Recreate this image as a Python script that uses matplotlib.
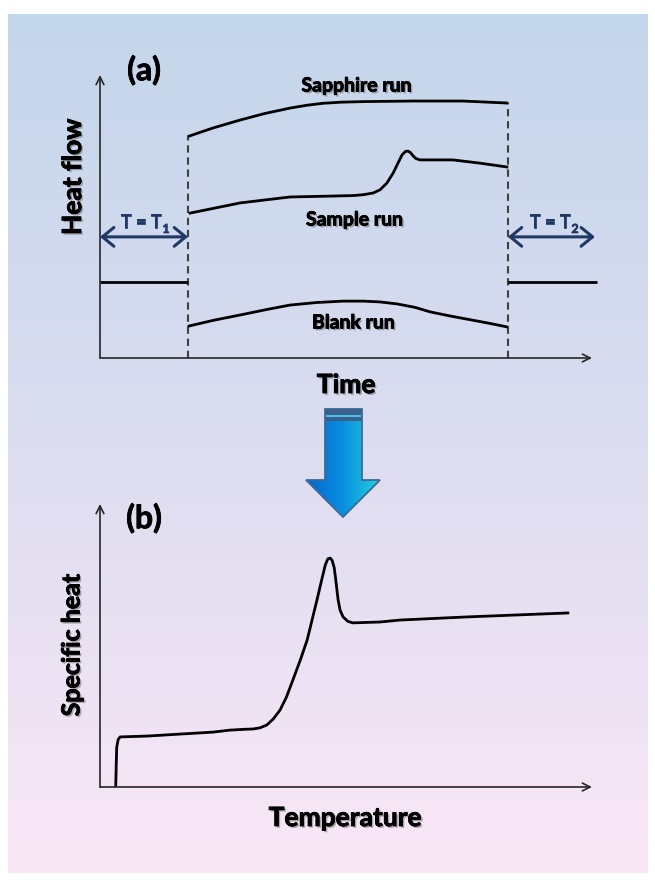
import numpy as np
import matplotlib
matplotlib.use("Agg")
import matplotlib.pyplot as plt
from matplotlib import patheffects as pe
from matplotlib.patches import Polygon, Rectangle
from matplotlib.colors import LinearSegmentedColormap

# ---------------- data (arbitrary units) ----------------
# panel (a): heat flow vs time
t_start, t_end = 1.79, 8.29
iso_level = 2.69
sapphire_t = [1.81, 2.30, 2.85, 3.35, 3.86, 4.20, 4.53, 4.90, 5.35, 6.36, 7.38, 8.27]
sapphire_h = [7.84, 8.13, 8.41, 8.64, 8.83, 8.93, 9.00, 9.04, 9.06, 9.08, 9.08, 9.01]
sample_t = [1.83, 2.85, 3.86, 4.67, 5.15, 5.35, 5.55, 5.69, 5.83, 5.96, 6.06, 6.14, 6.21,
            6.26, 6.31, 6.36, 6.42, 6.50, 6.80, 7.17, 7.70, 8.27]
sample_h = [5.12, 5.48, 5.69, 5.72, 5.74, 5.77, 5.83, 5.94, 6.18, 6.54, 6.90, 7.18, 7.30,
            7.31, 7.26, 7.15, 7.05, 7.00, 7.00, 7.00, 6.89, 6.75]
blank_t = [1.81, 2.30, 2.85, 3.35, 3.86, 4.40, 4.94, 5.35, 5.70, 6.04, 6.40, 6.71, 7.10,
           7.50, 7.90, 8.27]
blank_h = [1.13, 1.33, 1.52, 1.70, 1.87, 1.96, 2.01, 2.01, 1.98, 1.91, 1.79, 1.63, 1.49,
           1.36, 1.23, 1.10]

# panel (b): specific heat vs temperature
temp = [0.32, 0.33, 0.34, 0.37, 0.41, 0.96, 1.63, 2.30, 2.64, 2.95, 3.11, 3.25, 3.39,
        3.52, 3.66, 3.79, 3.92, 4.07, 4.21, 4.31, 4.41, 4.51, 4.58, 4.63, 4.68, 4.72,
        4.76, 4.79, 4.82, 4.84, 4.88, 4.94, 5.04, 5.14, 5.69, 6.10, 7.46, 9.51]
cp = [0.00, 0.80, 1.41, 1.68, 1.77, 1.80, 1.87, 1.94, 2.01, 2.04, 2.05, 2.09, 2.19,
      2.40, 2.72, 3.18, 3.78, 4.48, 5.19, 5.90, 6.61, 7.35, 7.85, 8.06, 8.09, 8.00,
      7.75, 7.35, 6.90, 6.61, 6.25, 6.01, 5.85, 5.80, 5.83, 5.90, 6.01, 6.15]

W, H, DPI = 655, 881, 100
FONT = "Lato"
plt.rcParams["font.family"] = [FONT, "DejaVu Sans"]

fig = plt.figure(figsize=(W / DPI, H / DPI), dpi=DPI)
fig.patch.set_facecolor("white")

# background / decoration axes in pixel coordinates
bg = fig.add_axes([0, 0, 1, 1])
bg.set_xlim(0, W)
bg.set_ylim(H, 0)
bg.axis("off")
grad = np.linspace(0, 1, 256)[:, None]
bgcmap = LinearSegmentedColormap.from_list("bg", ["#C4D6EB", "#DCDDF0", "#FAE7F6"])
bg.imshow(grad, extent=[8, 648, 873, 14], cmap=bgcmap, aspect="auto", zorder=0,
          interpolation="bicubic")


def fig_rect(x0, y0, x1, y1):
    return [x0 / W, 1 - y1 / H, (x1 - x0) / W, (y1 - y0) / H]


AX_COL = "#262626"
LW = 2.0
shadow = [pe.withSimplePatchShadow(offset=(1.3, -1.3), shadow_rgbFace="#555555", alpha=0.45),
          pe.Stroke(linewidth=0.6, foreground="black"), pe.Normal()]
thick = [pe.Stroke(linewidth=0.6, foreground="black"), pe.Normal()]


def draw_axes_arrows(ax):
    kw = dict(arrowstyle="->", lw=1.2, color=AX_COL, shrinkA=0, shrinkB=0, mutation_scale=14)
    ax.annotate("", xy=(0, 1), xytext=(0, 0), xycoords="axes fraction", arrowprops=kw)
    ax.annotate("", xy=(1, 0), xytext=(0, 0), xycoords="axes fraction", arrowprops=kw)


# ---------------- panel (a) ----------------
axA = fig.add_axes(fig_rect(100, 75, 592, 358))
axA.set_xlim(0, 10)
axA.set_ylim(0, 10)
axA.axis("off")
draw_axes_arrows(axA)
dash = dict(color="#404040", lw=1.5, ls=(0, (3.5, 2.3)))
axA.plot([t_start, t_start], [0, sapphire_h[0]], **dash)
axA.plot([t_end, t_end], [0, sapphire_h[-1]], **dash)
axA.plot([0, t_start], [iso_level, iso_level], color="black", lw=LW, solid_capstyle="butt")
axA.plot([t_end, 10.1], [iso_level, iso_level], color="black", lw=LW, solid_capstyle="butt",
         clip_on=False)
for xs, ys in [(sapphire_t, sapphire_h), (sample_t, sample_h), (blank_t, blank_h)]:
    axA.plot(xs, ys, color="black", lw=LW, solid_joinstyle="round", clip_on=False)
NAVY = "#1F3864"
tk = dict(arrowstyle="<->, head_length=0.55, head_width=0.45", lw=2.2, color=NAVY,
          shrinkA=0, shrinkB=0, mutation_scale=15)
axA.annotate("", xy=(0, 4.28), xytext=(t_start, 4.28), arrowprops=tk, annotation_clip=False)
axA.annotate("", xy=(t_end, 4.28), xytext=(10.06, 4.28), arrowprops=tk, annotation_clip=False)

# ---------------- panel (b) ----------------
axB = fig.add_axes(fig_rect(100, 504, 592, 787))
axB.set_xlim(0, 10)
axB.set_ylim(0, 10)
axB.axis("off")
draw_axes_arrows(axB)
axB.plot(temp, cp, color="black", lw=LW, solid_joinstyle="round")

# ---------------- texts (pixel coordinates) ----------------
def txt(x, y, s, size, color="black", rot=0, eff=True):
    bg.text(x, y, s, fontsize=size, fontweight="bold", color=color, rotation=rot,
            ha="center", va="center", zorder=5, path_effects=shadow if eff else thick)

txt(144, 70, "(a)", 23, eff=False)
txt(144, 518, "(b)", 23, eff=False)
txt(357, 86, "Sapphire run", 14)
txt(355, 220, "Sample run", 14)
txt(354, 323, "Blank run", 14)
txt(73, 177, "Heat flow", 19, rot=90)
txt(346, 385, "Time", 19)
txt(72, 645, "Specific heat", 18, rot=90)
txt(345, 818, "Temperature", 19)

navy_fx = [pe.Stroke(linewidth=0.5, foreground=NAVY), pe.Normal()]
for x0, sub in [(141, "1"), (550, "2")]:
    bg.text(x0, 222, "T = T", fontsize=13, fontweight="bold", color=NAVY,
            ha="center", va="center", zorder=5, path_effects=navy_fx)
    bg.text(x0 + 25, 229, sub, fontsize=9, fontweight="bold", color=NAVY,
            ha="center", va="center", zorder=5, path_effects=navy_fx)

# ---------------- big down arrow ----------------
arrow_pts = [(325, 409), (362, 409), (362, 480), (380, 480), (343, 517), (306, 480), (325, 480)]
poly = Polygon(arrow_pts, closed=True, facecolor="none", edgecolor="#3F6895", lw=1.3, zorder=4)
hgrad = np.linspace(0, 1, 256)[None, :]
acmap = LinearSegmentedColormap.from_list("arr", ["#0565D0", "#0A8FE0", "#22D3DF"])
im = bg.imshow(hgrad, extent=[306, 380, 517, 409], cmap=acmap, aspect="auto", zorder=3)
clip = Polygon(arrow_pts, closed=True, transform=bg.transData, facecolor="none", edgecolor="none")
bg.add_patch(clip)
im.set_clip_path(clip)
bg.add_patch(Rectangle((325, 409), 37, 12, facecolor="#3C5F8C", edgecolor="none", zorder=3.5))
bg.add_patch(Rectangle((326, 415), 35, 2, facecolor="#3FC7E6", edgecolor="none", zorder=3.6))
bg.add_patch(poly)

fig.savefig("out.png", dpi=DPI)
